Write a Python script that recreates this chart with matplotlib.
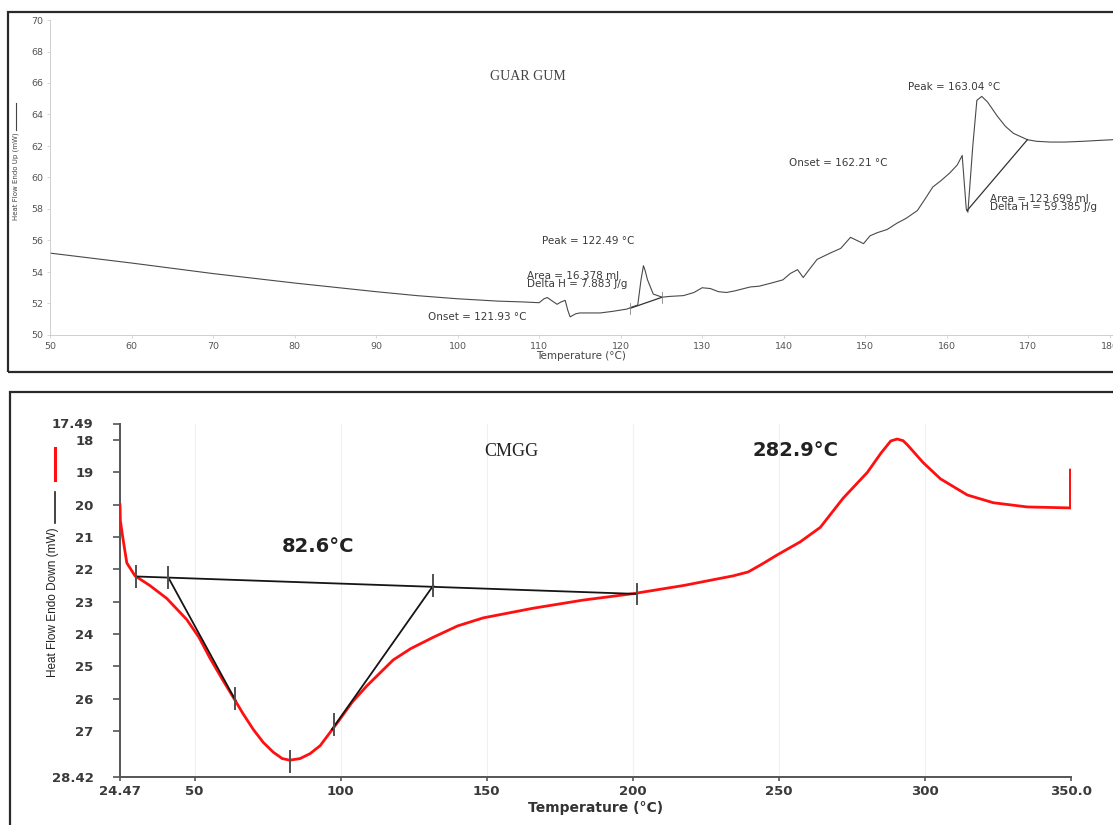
## Imports required libraries.
import numpy as np
import matplotlib
matplotlib.use('Agg')
import matplotlib.pyplot as plt
from matplotlib.patches import Rectangle
from matplotlib.lines import Line2D


## Guar gum DSC trace.
gg_temp = [50, 60, 70, 80, 90, 95, 100, 105, 108, 110, 110.6, 111.0, 111.5, 112.2, 112.7, 113.2, 113.5, 113.8,
           114.5, 115, 117.5, 119, 120.8, 121.5, 122.1, 122.5, 122.8, 123.0, 123.3, 124, 125.1, 126, 127.7, 129,
           130, 131, 132, 133, 134, 135.9, 137, 138.5, 139.9, 140.8, 141.7, 142.4, 143.2, 144.1, 145.7, 147,
           148.2, 149, 149.8, 150.6, 151.5, 152.7, 153.9, 155, 156.4, 157.3, 158.3, 159.3, 160.4, 161.3, 161.9,
           162.4, 162.6, 163.2, 163.7, 164.3, 165.0, 166.2, 167.2, 168.2, 169.9, 171, 172.7, 174.5, 176.8,
           178.5, 180.4]
gg_hf   = [55.2, 54.57, 53.9, 53.3, 52.75, 52.5, 52.3, 52.15, 52.1, 52.05, 52.3, 52.38, 52.2, 51.95, 52.1, 52.2,
           51.6, 51.15, 51.35, 51.4, 51.4, 51.5, 51.65, 51.8, 51.9, 53.5, 54.4, 54.1, 53.5, 52.6, 52.4, 52.45,
           52.5, 52.7, 53.0, 52.95, 52.75, 52.7, 52.8, 53.05, 53.1, 53.3, 53.5, 53.9, 54.15, 53.65, 54.2, 54.8,
           55.2, 55.5, 56.2, 56.0, 55.8, 56.3, 56.5, 56.7, 57.1, 57.4, 57.9, 58.6, 59.4, 59.8, 60.3, 60.8, 61.4,
           58.0, 57.8, 62.0, 64.9, 65.15, 64.8, 63.9, 63.25, 62.8, 62.4, 62.3, 62.25, 62.25, 62.3, 62.35, 62.4]

## Integration baselines on the guar gum trace.
gg_base1_t  = [121.2, 125.1]
gg_base1_hf = [51.7, 52.4]
gg_base2_t  = [162.5, 169.9]
gg_base2_hf = [57.9, 62.4]

gg_xticks = [50, 60, 70, 80, 90, 100, 110, 120, 130, 140, 150, 160, 170, 180]
gg_yticks = [50, 52, 54, 56, 58, 60, 62, 64, 66, 68, 70]


## CMGG DSC trace.
cm_temp = [24.47, 24.6, 25.4, 26.8, 29.6, 34.7, 40.5, 47.3, 51.5, 55.3, 59.5, 63.2, 66.5, 70.1, 73.5, 76.9,
           80.0, 82.6, 86.1, 89.5, 93.0, 98.8, 104.0, 109.0, 118.0, 124.0, 131.7, 140.0, 148.8, 166.0, 183.0,
           200.2, 217.3, 234.4, 239.5, 244.0, 249.5, 257.3, 264.2, 272.0, 280.3, 285.0, 288.3, 290.5, 292.5,
           294.0, 299.4, 305.3, 314.5, 323.4, 335.0, 349.8, 349.8]
cm_hf   = [20.0, 20.5, 21.0, 21.8, 22.2, 22.5, 22.9, 23.55, 24.1, 24.75, 25.4, 25.95, 26.45, 26.95, 27.35, 27.65,
           27.85, 27.9, 27.85, 27.7, 27.45, 26.75, 26.1, 25.6, 24.8, 24.45, 24.1, 23.75, 23.5, 23.2, 22.95,
           22.75, 22.5, 22.2, 22.08, 21.85, 21.55, 21.15, 20.7, 19.8, 19.0, 18.4, 18.03, 17.97, 18.02,
           18.15, 18.7, 19.2, 19.7, 19.94, 20.07, 20.1, 18.93]

## Baseline and tangents drawn on the CMGG trace, plus the small cursor marks.
cm_base_t   = [30.0, 201.5]
cm_base_hf  = [22.22, 22.76]
cm_tan1_t   = [41.0, 64.0]
cm_tan1_hf  = [22.25, 26.05]
cm_tan2_t   = [131.7, 97.0]
cm_tan2_hf  = [22.5, 26.95]
cm_mark_t   = [30.0, 41.0, 131.7, 201.5, 64.0, 97.7, 82.6]
cm_mark_hf  = [22.22, 22.25, 22.5, 22.76, 26.0, 26.8, 27.95]

cm_xticks = [24.47, 50, 100, 150, 200, 250, 300, 350]
cm_xlabels = ['24.47', '50', '100', '150', '200', '250', '300', '350.0']
cm_yticks = [17.49, 18, 19, 20, 21, 22, 23, 24, 25, 26, 27, 28.42]
cm_ylabels = ['17.49', '18', '19', '20', '21', '22', '23', '24', '25', '26', '27', '28.42']


W, H = 1113, 825
fig = plt.figure(figsize=(W/100, H/100), dpi=100)

## Panel frames.
fig.patches.append(Rectangle((8/W, 1-372/H), 1.2, 360/H, transform=fig.transFigure,
                             fill=False, edgecolor='#2a2a2a', lw=1.6))
fig.patches.append(Rectangle((10/W, -0.05), 1.2, 1-392/H+0.05, transform=fig.transFigure,
                             fill=False, edgecolor='#2a2a2a', lw=1.6))


## ---------------- Top panel: GUAR GUM ----------------
grey = '#555555'
ax1 = fig.add_axes([50/W, 1-335/H, (W-50)/W, 315/H])
ax1.plot(gg_temp, gg_hf, color='#4a4a4a', lw=0.8)
ax1.plot(gg_base1_t, gg_base1_hf, color='#333333', lw=0.9)
ax1.plot(gg_base2_t, gg_base2_hf, color='#333333', lw=0.9)
for t, v in zip(gg_base1_t, gg_base1_hf):
    ax1.plot([t, t], [v-0.35, v+0.35], color='#888888', lw=0.6)
ax1.set_xlim(50, 180.4)
ax1.set_ylim(50, 70)
ax1.set_xticks(gg_xticks)
ax1.set_yticks(gg_yticks)
for s in ['top', 'right']:
    ax1.spines[s].set_visible(False)
for s in ['left', 'bottom']:
    ax1.spines[s].set_color('#c8c8c8')
    ax1.spines[s].set_linewidth(0.6)
ax1.tick_params(labelsize=6.8, colors='#c8c8c8', labelcolor=grey, length=2, width=0.5, pad=3)
ax1.patch.set_alpha(0)
ax1.set_xlabel('Temperature (°C)', fontsize=7.5, color='#444444', labelpad=0)

txt = dict(fontsize=7.5, color='#3a3a3a')
ax1.text(108.6, 66.4, 'GUAR GUM', fontsize=10, color='#444444', family='Liberation Serif',
         ha='center', va='center')
ax1.text(155.2, 65.75, 'Peak = 163.04 °C', va='center', **txt)
ax1.text(140.7, 60.9, 'Onset = 162.21 °C', va='center', **txt)
ax1.text(165.3, 58.35, 'Area = 123.699 mJ\nDelta H = 59.385 J/g', va='center', linespacing=0.75, **txt)
ax1.text(110.4, 56.0, 'Peak = 122.49 °C', va='center', **txt)
ax1.text(108.5, 53.5, 'Area = 16.378 mJ\nDelta H = 7.883 J/g', va='center', linespacing=0.75, **txt)
ax1.text(96.4, 51.14, 'Onset = 121.93 °C', va='center', **txt)

## Tiny rotated y label of the scan.
fig.text(16/W, 1-176/H, 'Heat Flow Endo Up (mW)', rotation=90, fontsize=5, color='#444444',
         ha='center', va='center')
fig.lines.append(Line2D([16/W, 16/W], [1-130/H, 1-103/H], transform=fig.transFigure,
                        color='#444444', lw=0.8))


## ---------------- Bottom panel: CMGG ----------------
ax2 = fig.add_axes([120/W, 1-777/H, (1071-120)/W, (777-423.5)/H])
for t in cm_xticks[1:]:
    ax2.axvline(t, color='#f0f0f0', lw=0.8, zorder=0)
ax2.plot(cm_temp, cm_hf, color='#ff1010', lw=2.0, solid_joinstyle='round', zorder=3)
ax2.plot(cm_base_t, cm_base_hf, color='#151515', lw=1.3, zorder=4)
ax2.plot(cm_tan1_t, cm_tan1_hf, color='#151515', lw=1.3, zorder=4)
ax2.plot(cm_tan2_t, cm_tan2_hf, color='#151515', lw=1.3, zorder=4)
for t, v in zip(cm_mark_t, cm_mark_hf):
    ax2.plot([t, t], [v-0.32, v+0.32], color='#505050', lw=1.4, zorder=5)

ax2.set_xlim(24.47, 350)
ax2.set_ylim(28.42, 17.49)
ax2.set_xticks(cm_xticks)
ax2.set_xticklabels(cm_xlabels)
ax2.set_yticks(cm_yticks)
ax2.set_yticklabels(cm_ylabels)
for s in ['top', 'right']:
    ax2.spines[s].set_visible(False)
for s in ['left', 'bottom']:
    ax2.spines[s].set_color('#555555')
    ax2.spines[s].set_linewidth(1.4)
ax2.tick_params(axis='y', length=5, width=1.2, colors='#555555', labelcolor='#3a3a3a', pad=14)
ax2.tick_params(axis='x', length=3, width=1.2, colors='#555555', labelcolor='#3a3a3a', pad=3)
for lab in ax2.get_xticklabels() + ax2.get_yticklabels():
    lab.set_fontsize(9.5)
    lab.set_fontweight('bold')
ax2.patch.set_alpha(0)
ax2.set_xlabel('Temperature (°C)', fontsize=10, fontweight='bold', color='#333333', labelpad=2)

ax2.text(158.4, 18.37, 'CMGG', fontsize=13, family='Liberation Serif', color='#222222',
         ha='center', va='center')
ax2.text(240.9, 18.31, '282.9°C', fontsize=14, fontweight='bold', color='#222222', va='center')
ax2.text(79.9, 21.3, '82.6°C', fontsize=14, fontweight='bold', color='#222222', va='center')

## Y label with the little series keys above it.
fig.text(53/W, 1-602/H, 'Heat Flow Endo Down (mW)', rotation=90, fontsize=8.5,
         family=['Liberation Sans Narrow', 'Liberation Sans', 'DejaVu Sans'], color='#222222',
         ha='center', va='center')
fig.lines.append(Line2D([55/W, 55/W], [1-480/H, 1-448/H], transform=fig.transFigure,
                        color='#ff1010', lw=2.2))
fig.lines.append(Line2D([55/W, 55/W], [1-523/H, 1-492/H], transform=fig.transFigure,
                        color='#222222', lw=1.2))

plt.savefig('out.png', dpi=100)
